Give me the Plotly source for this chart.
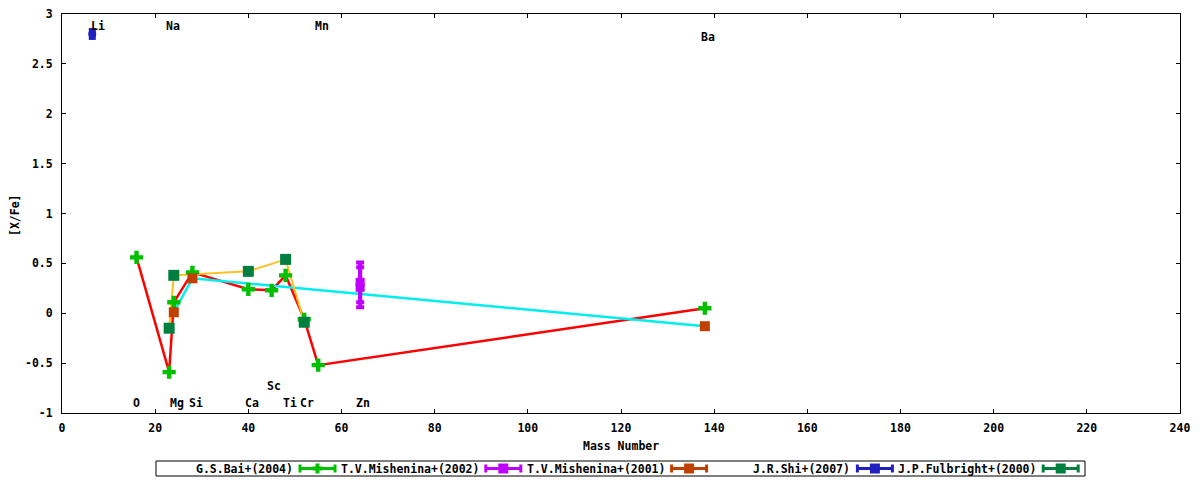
import plotly.graph_objects as go

# values
bai_mass = [16, 23, 24, 28, 40, 45, 48, 52, 55, 138]
bai_xfe = [0.56, -0.59, 0.11, 0.41, 0.24, 0.23, 0.38, -0.06, -0.52, 0.05]

mish02_mass = [64, 64]
mish02_xfe = [0.31, 0.26]
mish02_err = [0.2, 0.2]

mish01_mass = [24, 28, 138]
mish01_xfe = [0.01, 0.35, -0.13]

shi_mass = [6.5]
shi_xfe = [2.80]
shi_err = [0.06]

fulb_mass = [23, 24, 40, 48, 52]
fulb_xfe = [-0.15, 0.38, 0.42, 0.54, -0.09]

elements = ["Li", "Na", "Mn", "Ba", "O", "Mg", "Si", "Ca", "Sc", "Ti", "Cr", "Zn"]
label_x = [7.8, 23.8, 55.8, 138.7, 15.9, 24.7, 28.8, 40.8, 45.6, 48.9, 52.7, 64.7]
label_y = [2.88, 2.88, 2.88, 2.77, -0.9, -0.9, -0.9, -0.9, -0.73, -0.9, -0.9, -0.9]

series_names = ["G.S.Bai+(2004)", "T.V.Mishenina+(2002)", "T.V.Mishenina+(2001)",
                "J.R.Shi+(2007)", "J.P.Fulbright+(2000)"]
series_colors = ["#00c000", "#c000ff", "#c04000", "#2020c0", "#008040"]

y_ticks = [-1, -0.5, 0, 0.5, 1, 1.5, 2, 2.5, 3]
y_ticktext = ["-1", "-0.5", "0", "0.5", "1", "1.5", "2", "2.5", "3"]

FONT = "DejaVu Sans Mono"
FS = 11.5

# plot area in page pixels (1200x480 window); the page body has an 8px margin
L, R, T, B = 62, 1180, 14, 413
OFF = 8


def px_x(p):
    return (p - L) / (R - L)


def px_y(p):
    return (B - p) / (B - T)


def txt(**kw):
    return dict(family=FONT, size=FS, color="black", weight="bold", **kw)


fig = go.Figure()

# connecting lines first, points on top
fig.add_trace(go.Scatter(x=bai_mass, y=bai_xfe, mode="lines",
                         line=dict(color="#ff0000", width=2.5), showlegend=False))
fig.add_trace(go.Scatter(x=mish01_mass, y=mish01_xfe, mode="lines",
                         line=dict(color="#00eeee", width=2.5), showlegend=False))
fig.add_trace(go.Scatter(x=fulb_mass, y=fulb_xfe, mode="lines",
                         line=dict(color="#ffc020", width=2), showlegend=False))

fig.add_trace(go.Scatter(x=bai_mass, y=bai_xfe, mode="markers",
                         marker=dict(symbol="cross", size=11, color=series_colors[0]),
                         showlegend=False))
fig.add_trace(go.Scatter(x=mish02_mass, y=mish02_xfe, mode="markers",
                         marker=dict(symbol="square", size=9, color=series_colors[1]),
                         error_y=dict(type="data", array=mish02_err, color=series_colors[1],
                                      thickness=4, width=4),
                         showlegend=False))
fig.add_trace(go.Scatter(x=mish01_mass, y=mish01_xfe, mode="markers",
                         marker=dict(symbol="square", size=10, color=series_colors[2]),
                         showlegend=False))
fig.add_trace(go.Scatter(x=shi_mass, y=shi_xfe, mode="markers",
                         marker=dict(symbol="circle", size=8, color=series_colors[3]),
                         error_y=dict(type="data", array=shi_err, color=series_colors[3],
                                      thickness=7, width=0),
                         showlegend=False))
fig.add_trace(go.Scatter(x=fulb_mass, y=fulb_xfe, mode="markers",
                         marker=dict(symbol="square", size=11, color=series_colors[4]),
                         showlegend=False))

annotations = []
for name, lx, ly in zip(elements, label_x, label_y):
    annotations.append(dict(x=lx, y=ly, xref="x", yref="y", text=name, showarrow=False,
                            xanchor="center", yanchor="middle", font=txt()))

annotations.append(dict(x=0.5, y=px_y(446), xref="paper", yref="paper", text="Mass Number",
                        showarrow=False, xanchor="center", yanchor="middle", font=txt()))
annotations.append(dict(x=px_x(15), y=px_y(215), xref="paper", yref="paper", text="[X/Fe]",
                        textangle=-90, showarrow=False, xanchor="center", yanchor="middle",
                        font=txt()))

# gnuplot style key: text, then sample
shapes = [dict(type="rect", xref="paper", yref="paper",
               x0=px_x(156), x1=px_x(1085), y0=px_y(461), y1=px_y(476),
               line=dict(color="black", width=1))]
ky = 468.5
for i, (name, col) in enumerate(zip(series_names, series_colors)):
    s0 = 300 + i * 185.8
    s1 = s0 + 35
    annotations.append(dict(x=px_x(s0 - 5), y=px_y(ky), xref="paper", yref="paper",
                            text=name, showarrow=False, xanchor="right", yanchor="middle",
                            font=txt()))
    shapes.append(dict(type="line", xref="paper", yref="paper",
                       x0=px_x(s0), x1=px_x(s1), y0=px_y(ky), y1=px_y(ky),
                       line=dict(color=col, width=3)))
    for sx in (s0, s1):
        shapes.append(dict(type="line", xref="paper", yref="paper",
                           x0=px_x(sx), x1=px_x(sx), y0=px_y(ky - 4), y1=px_y(ky + 4),
                           line=dict(color=col, width=3)))
    cx = (s0 + s1) / 2
    if i == 0:
        shapes.append(dict(type="line", xref="paper", yref="paper",
                           x0=px_x(cx - 5), x1=px_x(cx + 5), y0=px_y(ky), y1=px_y(ky),
                           line=dict(color=col, width=4)))
        shapes.append(dict(type="line", xref="paper", yref="paper",
                           x0=px_x(cx), x1=px_x(cx), y0=px_y(ky - 5), y1=px_y(ky + 5),
                           line=dict(color=col, width=4)))
    else:
        shapes.append(dict(type="rect", xref="paper", yref="paper",
                           x0=px_x(cx - 5), x1=px_x(cx + 5), y0=px_y(ky - 5), y1=px_y(ky + 5),
                           line=dict(width=0), fillcolor=col))

axis_common = dict(showline=True, linecolor="black", linewidth=1, mirror="ticks",
                   ticks="inside", ticklen=4, tickcolor="black", showgrid=False,
                   zeroline=False, automargin=False, ticklabeloverflow="allow",
                   tickfont=txt())

fig.update_layout(
    width=1200 - OFF, height=480 - OFF,
    margin=dict(l=L - OFF, r=1200 - R, t=T - OFF, b=480 - B),
    paper_bgcolor="white", plot_bgcolor="white",
    showlegend=False,
    xaxis=dict(range=[0, 240], dtick=20, ticklabelstandoff=4, **axis_common),
    yaxis=dict(range=[-1, 3], tickvals=y_ticks, ticktext=y_ticktext,
               ticklabelstandoff=6, **axis_common),
    annotations=annotations,
    shapes=shapes,
)

fig.write_html("out.html")
